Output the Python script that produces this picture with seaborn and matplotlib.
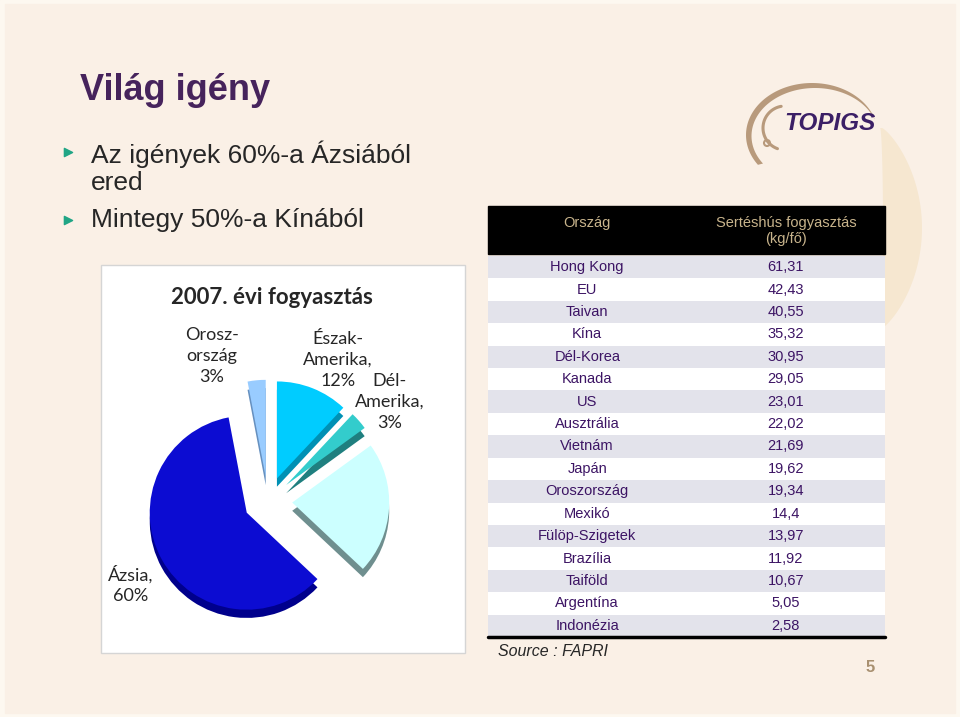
import numpy as np
import pandas as pd
import seaborn as sns
import matplotlib.pyplot as plt
from matplotlib.colors import ListedColormap
from matplotlib.patches import Rectangle, Polygon, Circle

# 2007. évi fogyasztás (pie), clockwise from 12 o'clock
regions = ['Észak-Amerika', 'Dél-Amerika', 'EU', 'Ázsia', 'Oroszország']
shares = [12, 3, 22, 60, 3]
region_labels = ['Észak-\nAmerika,\n12%', 'Dél-\nAmerika,\n3%', 'EU\n22%',
                 'Ázsia,\n60%', 'Orosz-\nország\n3%']

# table: Sertéshús fogyasztás (kg/fő)
countries = ['Hong Kong', 'EU', 'Taivan', 'Kína', 'Dél-Korea', 'Kanada', 'US',
             'Ausztrália', 'Vietnám', 'Japán', 'Oroszország', 'Mexikó',
             'Fülöp-Szigetek', 'Brazília', 'Taiföld', 'Argentína', 'Indonézia']
consumption = [61.31, 42.43, 40.55, 35.32, 30.95, 29.05, 23.01, 22.02, 21.69,
               19.62, 19.34, 14.4, 13.97, 11.92, 10.67, 5.05, 2.58]

bullets = ['Az igények 60%-a Ázsiából\nered', 'Mintegy 50%-a Kínából']

sns.set_style('white')
plt.rcParams['font.family'] = ['Liberation Sans', 'DejaVu Sans']

BG = '#faf0e6'
PURPLE = '#46235c'
fig = plt.figure(figsize=(9.6, 7.17), dpi=100, facecolor=BG)

# background / decoration layer in pixel coords
bg = fig.add_axes([0, 0, 1, 1])
bg.set_xlim(0, 960)
bg.set_ylim(717, 0)
bg.axis('off')
bg.add_patch(Rectangle((0, 0), 960, 717, color='#fdf8f0', zorder=0))
bg.add_patch(Rectangle((5, 4), 950, 709, color=BG, zorder=0))

# light crescent on the right
t = np.linspace(-np.pi / 2, np.pi / 2, 80)
right = np.column_stack([882 + 40 * np.cos(t) ** 1.6, 228 - 100 * np.sin(t)])
left = np.column_stack([880 + 3 * np.cos(t[::-1]), 228 - 100 * np.sin(t[::-1])])
bg.add_patch(Polygon(np.vstack([right, left]), color='#f6e7d0', lw=0, zorder=1))

# TOPIGS logo swoosh
t = np.radians(np.linspace(20, 215, 80))
outer = np.column_stack([812 + 66 * np.cos(t), 135 - 52 * np.sin(t)])
inner = np.column_stack([815 + 63.5 * np.cos(t[::-1]), 136 - 48 * np.sin(t[::-1])])
bg.add_patch(Polygon(np.vstack([outer, inner]), color='#b89a7c', lw=0, zorder=2))
t = np.radians(np.linspace(100, 250, 40))
bg.plot(785 + 22 * np.cos(t), 128 - 22 * np.sin(t), color='#b89a7c', lw=2.2, zorder=2)
bg.add_patch(Circle((767, 143), 3, fill=False, ec='#b89a7c', lw=1.5, zorder=2))
bg.text(784, 123, 'TOPIGS', color='#3b1f66', fontsize=17.5, weight='bold',
        style='italic', ha='left', va='center', zorder=3)

# slide title and bullets
bg.text(80, 90, 'Világ igény', color=PURPLE, fontsize=26, weight='bold',
        ha='left', va='center')
bg.scatter([68, 68], [152, 220], marker='>', s=35, color='#20a585', zorder=3)
bg.text(91, 141, bullets[0], fontsize=19, ha='left', va='top', linespacing=1.12)
bg.text(91, 220, bullets[1], fontsize=19, ha='left', va='center')

# white panel behind the pie
bg.add_patch(Rectangle((101, 265), 364, 388, fc='white', ec='#d5d5d5', lw=1, zorder=2))
bg.text(272, 297, '2007. évi fogyasztás', family='Lato', fontsize=16,
        weight='bold', ha='center', va='center', zorder=3)
label_pos = [(338, 360), (390, 402), (362, 492), (131, 585), (212, 356)]
for lab, (x, y) in zip(region_labels, label_pos):
    bg.text(x, y, lab, family='Lato', fontsize=13, ha='center', va='center',
            linespacing=1.35, zorder=3)

# table header
bg.add_patch(Rectangle((488, 206), 397, 48, color='black', zorder=2))
bg.text(587, 223, 'Ország', color='#c8b48c', fontsize=10.5, ha='center', va='center', zorder=3)
bg.text(786, 231, 'Sertéshús fogyasztás\n(kg/fő)', color='#c8b48c', fontsize=10.5,
        ha='center', va='center', linespacing=1.25, zorder=3)
bg.text(498, 651, 'Source : FAPRI', fontsize=11.5, style='italic', ha='left', va='center')
bg.text(870, 668, '5', color='#a89070', fontsize=12, weight='bold', ha='center', va='center')

# pie with a simple depth effect
top_colors = ['#00ccff', '#33cccc', '#ccffff', '#0c0cd2', '#99ccff']
side_colors = ['#0090b4', '#1f7f7f', '#6f8f8f', '#00008c', '#6690bf']
explode = [0.25] * len(shares)
pax = fig.add_axes([118 / 960, 1 - 651 / 717, 300 / 960, 300 / 717])
pax.pie(shares, colors=side_colors, explode=explode, startangle=90,
        counterclock=False, center=(0, -0.085), wedgeprops=dict(linewidth=0))
pax.pie(shares, colors=top_colors, explode=explode, startangle=90,
        counterclock=False, wedgeprops=dict(linewidth=0))
lim = 150 / 97
pax.set_xlim(-lim, lim)
pax.set_ylim(-lim, lim)
pax.axis('off')

# table body as a striped heatmap with text annotations
table = pd.DataFrame({'Ország': countries,
                      'Fogyasztás': [str(v).replace('.', ',') for v in consumption]})
stripes = np.tile((np.arange(len(table)) % 2)[:, None], (1, 2))
tax = fig.add_axes([488 / 960, 1 - 637 / 717, 397 / 960, 381 / 717])
sns.heatmap(stripes, ax=tax, cmap=ListedColormap(['#e3e3eb', '#ffffff']),
            vmin=0, vmax=1, cbar=False, annot=table.values, fmt='',
            annot_kws=dict(color='#3c1464', fontsize=10.5),
            xticklabels=False, yticklabels=False)
tax.axhline(len(table), color='black', lw=2.5, clip_on=False)

fig.savefig('out.png', dpi=100, facecolor=BG)
